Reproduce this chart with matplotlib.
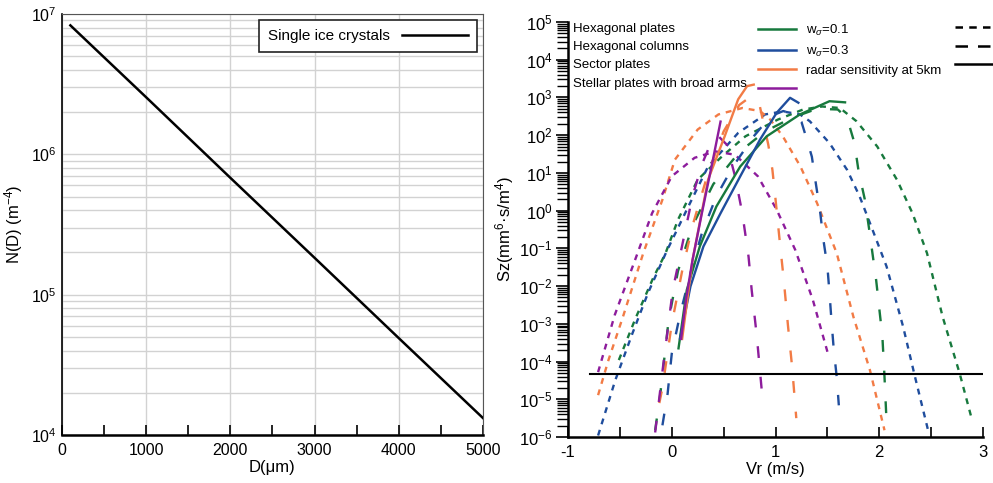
import numpy as np
import matplotlib
matplotlib.use('Agg')
import matplotlib.pyplot as plt
from matplotlib.lines import Line2D
from matplotlib.ticker import LogLocator, MultipleLocator, NullFormatter

plt.rcParams['font.family'] = ['Liberation Sans', 'DejaVu Sans']
plt.rcParams['mathtext.fontset'] = 'custom'
plt.rcParams['mathtext.rm'] = 'Liberation Sans'
plt.rcParams['mathtext.it'] = 'Liberation Sans:italic'
plt.rcParams['axes.unicode_minus'] = False

# ---- left panel: size distribution ----
diam_um = [100, 1000, 2000, 3000, 4000, 5000]
n_d = [8.3e6, 2.55e6, 6.8e5, 1.83e5, 4.9e4, 1.32e4]

# ---- right panel: Doppler spectra, x = Vr (m/s), y = log10(Sz) ----
# short dash curves
purple_short_x = [-0.71, -0.55, -0.33, -0.19, 0.0, 0.22, 0.42, 0.61, 0.83, 1.01, 1.19, 1.36, 1.50]
purple_short_lg = [-4.28, -2.77, -1.13, -0.07, 0.91, 1.40, 1.57, 1.48, 0.91, 0.03, -1.04, -2.37, -3.74]
orange_short_x = [-0.71, -0.61, -0.47, -0.275, -0.09, 0.03, 0.25, 0.45, 0.68, 0.85, 0.95, 1.07, 1.24,
                  1.40, 1.59, 1.75, 1.91, 2.05]
orange_short_lg = [-4.89, -3.96, -2.81, -1.13, 0.29, 1.35, 2.15, 2.55, 2.72, 2.64, 2.41, 1.97, 1.17,
                   0.2, -1.13, -2.81, -4.23, -5.82]
blue_short_x = [-0.71, -0.545, -0.38, -0.23, -0.05, 0.16, 0.35, 0.64, 0.90, 1.07, 1.235, 1.33, 1.52,
                1.69, 1.81, 1.91, 2.07, 2.23, 2.34, 2.47]
blue_short_lg = [-5.96, -4.50, -3.26, -2.19, -1.08, 0.11, 1.17, 2.06, 2.55, 2.63, 2.55, 2.37, 1.79,
                 1.08, 0.38, -0.33, -1.48, -3.08, -4.36, -5.82]
green_short_x = [-0.51, -0.35, -0.18, -0.06, 0.06, 0.25, 0.485, 0.71, 1.02, 1.265, 1.45, 1.62, 1.78,
                 1.98, 2.17, 2.32, 2.46, 2.61, 2.775, 2.89]
green_short_lg = [-3.96, -2.86, -1.79, -1.13, -0.24, 0.82, 1.44, 1.97, 2.41, 2.68, 2.76, 2.72, 2.37,
                  1.70, 0.82, -0.07, -1.13, -2.81, -4.32, -5.51]

# long dash curves
purple_long_x = [-0.16, -0.08, 0.01, 0.20, 0.29, 0.37, 0.45, 0.53, 0.61, 0.68, 0.74, 0.77, 0.82, 0.87]
purple_long_lg = [-5.88, -4.04, -2.10, 0.38, 1.22, 1.75, 1.97, 1.75, 0.91, -0.07, -1.22, -2.10, -3.34, -4.85]
orange_long_x = [-0.12, -0.09, 0.0, 0.1, 0.2, 0.35, 0.5, 0.65, 0.75, 0.85, 0.93, 0.97, 1.0, 1.04,
                 1.08, 1.12, 1.16, 1.20]
orange_long_lg = [-5.1, -4.7, -3.0, -1.6, -0.4, 1.0, 2.1, 2.8, 3.0, 2.75, 1.75, 1.08, 0.3, -0.8,
                  -1.85, -3.05, -4.15, -5.5]
blue_long_x = [-0.09, -0.04, 0.0, 0.08, 0.18, 0.29, 0.43, 0.59, 0.79, 0.95, 1.075, 1.17, 1.25, 1.30,
               1.35, 1.39, 1.43, 1.46, 1.50, 1.52, 1.54, 1.56, 1.59, 1.61]
blue_long_lg = [-5.69, -4.85, -3.79, -2.75, -1.66, -0.6, 0.38, 1.17, 1.97, 2.5, 2.64, 2.55, 2.35, 1.9,
                1.43, 0.69, -0.03, -0.75, -1.49, -2.18, -2.95, -3.64, -4.42, -5.16]
green_long_x = [-0.16, -0.11, -0.03, 0.06, 0.2, 0.4, 0.65, 0.9, 1.15, 1.4, 1.6, 1.69, 1.76, 1.80,
                1.86, 1.90, 1.97, 2.0, 2.03, 2.05, 2.07]
green_long_lg = [-5.82, -4.85, -2.9, -1.6, -0.4, 0.7, 1.55, 2.1, 2.45, 2.7, 2.68, 2.45, 1.8, 1.05,
                 0.3, -0.45, -1.85, -2.6, -3.35, -4.4, -5.6]

# solid curves
purple_solid_x = [0.09, 0.14, 0.20, 0.29, 0.39, 0.47]
purple_solid_lg = [-3.4, -2.3, -1.31, -0.07, 1.26, 2.36]
orange_solid_x = [0.10, 0.20, 0.35, 0.51, 0.64, 0.726, 0.79]
orange_solid_lg = [-3.4, -1.31, 0.82, 1.97, 2.95, 3.30, 3.34]
blue_solid_x = [0.08, 0.18, 0.305, 0.47, 0.66, 0.85, 1.01, 1.14, 1.22]
blue_solid_lg = [-3.39, -2.01, -0.95, -0.07, 0.91, 1.88, 2.59, 2.99, 2.86]
green_solid_x = [0.065, 0.145, 0.27, 0.43, 0.66, 0.915, 1.235, 1.52, 1.67]
green_solid_lg = [-3.65, -2.10, -0.95, 0.11, 1.17, 1.97, 2.55, 2.90, 2.87]

radar_x = [-0.79, 3.0]
radar_sz = [4.6e-5, 4.6e-5]

crystal_names = ['Hexagonal plates', 'Hexagonal columns', 'Sector plates',
                 'Stellar plates with broad arms']
colors = ['#17793d', '#1f4d9d', '#f27b45', '#8d1c9c']
mid_labels = ['w$_\\sigma$=0.1', 'w$_\\sigma$=0.3', 'radar sensitivity at 5km', ' ']

fig = plt.figure(figsize=(9.93, 4.83), dpi=100)

# ===== left =====
ax1 = fig.add_axes([0.0624, 0.0994, 0.4240, 0.8716])
ax1.set_yscale('log')
ax1.plot(diam_um, n_d, color='black', lw=1.8, label='Single ice crystals', zorder=3)
ax1.set_xlim(0, 5000)
ax1.set_ylim(1e4, 1e7)
ax1.xaxis.set_major_locator(MultipleLocator(1000))
ax1.xaxis.set_minor_locator(MultipleLocator(500))
ax1.yaxis.set_minor_locator(LogLocator(base=10, subs=np.arange(2, 10)))
ax1.yaxis.set_minor_formatter(NullFormatter())
ax1.grid(True, which='major', axis='x', color='#d2d2d2', lw=1)
ax1.grid(True, which='both', axis='y', color='#d2d2d2', lw=1)
ax1.tick_params(axis='x', which='both', direction='in', length=7, width=1.2, labelsize=11.5, pad=6)
ax1.tick_params(axis='y', which='both', length=0, labelsize=11.5, pad=4)
for s in ['top', 'right']:
    ax1.spines[s].set_color('#555555')
ax1.spines['bottom'].set_linewidth(1.8)
ax1.spines['left'].set_linewidth(1.2)
ax1.set_xlabel('D(μm)', fontsize=12, labelpad=1)
ax1.set_ylabel('N(D) (m$^{-4}$)', fontsize=12, labelpad=4)
leg = ax1.legend(loc='upper right', markerfirst=False, fontsize=11, handlelength=4.3,
                 fancybox=False, framealpha=1, edgecolor='#222222', borderpad=0.6,
                 borderaxespad=0, bbox_to_anchor=(0.986, 0.986))
leg.get_frame().set_linewidth(1.2)

# ===== right =====
ax2 = fig.add_axes([0.572, 0.0952, 0.418, 0.8593])
ax2.set_yscale('log')
short = (0, (2.5, 2.5))
long_ = (0, (5, 8))
series = [
    (green_short_x, green_short_lg, colors[0], short),
    (blue_short_x, blue_short_lg, colors[1], short),
    (orange_short_x, orange_short_lg, colors[2], short),
    (purple_short_x, purple_short_lg, colors[3], short),
    (green_long_x, green_long_lg, colors[0], long_),
    (blue_long_x, blue_long_lg, colors[1], long_),
    (orange_long_x, orange_long_lg, colors[2], long_),
    (purple_long_x, purple_long_lg, colors[3], long_),
    (green_solid_x, green_solid_lg, colors[0], '-'),
    (blue_solid_x, blue_solid_lg, colors[1], '-'),
    (orange_solid_x, orange_solid_lg, colors[2], '-'),
    (purple_solid_x, purple_solid_lg, colors[3], '-'),
]
for xs, lg, c, ls in series:
    ax2.plot(xs, 10.0 ** np.array(lg), color=c, ls=ls, lw=1.7)
ax2.plot(radar_x, radar_sz, color='black', lw=1.5)

ax2.set_xlim(-1, 3)
ax2.set_ylim(1e-6, 1e5)
ax2.xaxis.set_major_locator(MultipleLocator(1))
ax2.xaxis.set_minor_locator(MultipleLocator(0.5))
ax2.yaxis.set_major_locator(LogLocator(base=10, numticks=20))
ax2.yaxis.set_minor_locator(LogLocator(base=10, subs=np.arange(2, 10), numticks=20))
ax2.yaxis.set_minor_formatter(NullFormatter())
ax2.tick_params(axis='x', which='both', direction='in', length=7, width=1.2, labelsize=12, pad=6)
ax2.tick_params(axis='y', which='major', direction='out', length=9, width=1.2, labelsize=12, pad=2)
ax2.tick_params(axis='y', which='minor', direction='out', length=8, width=1.0)
ax2.spines['top'].set_visible(False)
ax2.spines['right'].set_visible(False)
ax2.spines['bottom'].set_linewidth(1.8)
ax2.spines['left'].set_linewidth(1.8)
ax2.set_xlabel('Vr (m/s)', fontsize=12, labelpad=1)
ax2.set_ylabel('Sz(mm$^6$·s/m$^4$)', fontsize=12, labelpad=2)

# legend built from three blocks: names | coloured lines + labels | black line styles
leg_kw = dict(fontsize=9.5, frameon=False, labelspacing=0.45, borderpad=0, borderaxespad=0,
              loc='upper left')
name_handles = [Line2D([], [], lw=0) for _ in crystal_names]
lg1 = ax2.legend(name_handles, crystal_names, handlelength=0, handletextpad=0,
                 bbox_to_anchor=(0.012, 0.998), **leg_kw)
ax2.add_artist(lg1)
color_handles = [Line2D([], [], color=c, lw=1.8) for c in colors]
lg2 = ax2.legend(color_handles, mid_labels, handlelength=2.9, handletextpad=0.75,
                 bbox_to_anchor=(0.458, 0.998), **leg_kw)
ax2.add_artist(lg2)
style_handles = [Line2D([], [], color='black', lw=1.8, ls=(0, (3, 2.5))),
                 Line2D([], [], color='black', lw=1.8, ls=(0, (5, 4))),
                 Line2D([], [], color='black', lw=1.8, ls='-')]
lg3 = ax2.legend(style_handles, [' ', ' ', ' '], handlelength=2.9, handletextpad=0,
                 bbox_to_anchor=(0.933, 0.998), **leg_kw)

fig.savefig('out.png', dpi=100)
